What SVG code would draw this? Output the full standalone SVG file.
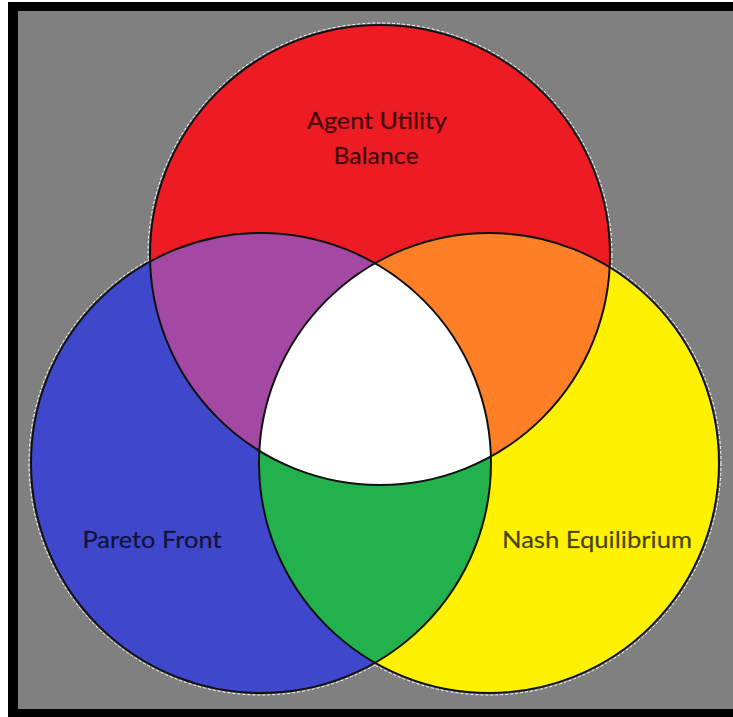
<svg xmlns="http://www.w3.org/2000/svg" width="733" height="717" viewBox="0 0 733 717">
  <style>
    .lbl { font-family: Lato, "Open Sans", "Liberation Sans", sans-serif; font-size: 23px; text-anchor: middle; fill: #000; fill-opacity: 0.72; stroke: #000; stroke-opacity: 0.4; stroke-width: 0.4; }
    .edge { fill: none; stroke: #111; stroke-width: 2; }
    .halo { fill: none; stroke: #fff; stroke-width: 1; stroke-dasharray: 3 2; }
  </style>
  <defs>
    <clipPath id="cRed"><circle cx="380" cy="255" r="230"/></clipPath>
    <clipPath id="cBlue"><circle cx="261" cy="463" r="230"/></clipPath>
    <clipPath id="cYellow"><circle cx="489" cy="463" r="230"/></clipPath>
  </defs>
  <rect x="0" y="0" width="733" height="717" fill="#fff"/>
  <rect x="8" y="2" width="725" height="715" fill="#000"/>
  <rect x="18" y="11" width="715" height="698" fill="#808080"/>

  <g id="halos">
    <circle cx="380" cy="255" r="232" class="halo"/>
    <circle cx="261" cy="463" r="232" class="halo"/>
    <circle cx="489" cy="463" r="232" class="halo"/>
  </g>
  <g id="agent-utility-balance">
    <circle cx="380" cy="255" r="230" fill="#ED1C24"/>
  </g>
  <g id="pareto-front">
    <circle cx="261" cy="463" r="230" fill="#3F48CC"/>
  </g>
  <g id="nash-equilibrium">
    <circle cx="489" cy="463" r="230" fill="#FFF200"/>
  </g>
  <g id="overlaps">
    <circle cx="261" cy="463" r="230" fill="#A349A4" clip-path="url(#cRed)"/>
    <circle cx="489" cy="463" r="230" fill="#FF7F27" clip-path="url(#cRed)"/>
    <circle cx="489" cy="463" r="230" fill="#22B14C" clip-path="url(#cBlue)"/>
    <g clip-path="url(#cYellow)">
      <circle cx="380" cy="255" r="230" fill="#FFFFFF" clip-path="url(#cBlue)"/>
    </g>
  </g>
  <g id="connectors">
    <circle cx="380" cy="255" r="230" class="edge"/>
    <circle cx="261" cy="463" r="230" class="edge"/>
    <circle cx="489" cy="463" r="230" class="edge"/>
  </g>
  <g id="labels">
    <text class="lbl" x="377" y="129" textLength="140" lengthAdjust="spacingAndGlyphs">Agent Utility</text>
    <text class="lbl" x="376" y="164" textLength="85" lengthAdjust="spacingAndGlyphs">Balance</text>
    <text class="lbl" x="152" y="548" textLength="139" lengthAdjust="spacingAndGlyphs">Pareto Front</text>
    <text class="lbl" x="597" y="548" textLength="190" lengthAdjust="spacingAndGlyphs">Nash Equilibrium</text>
  </g>
</svg>
